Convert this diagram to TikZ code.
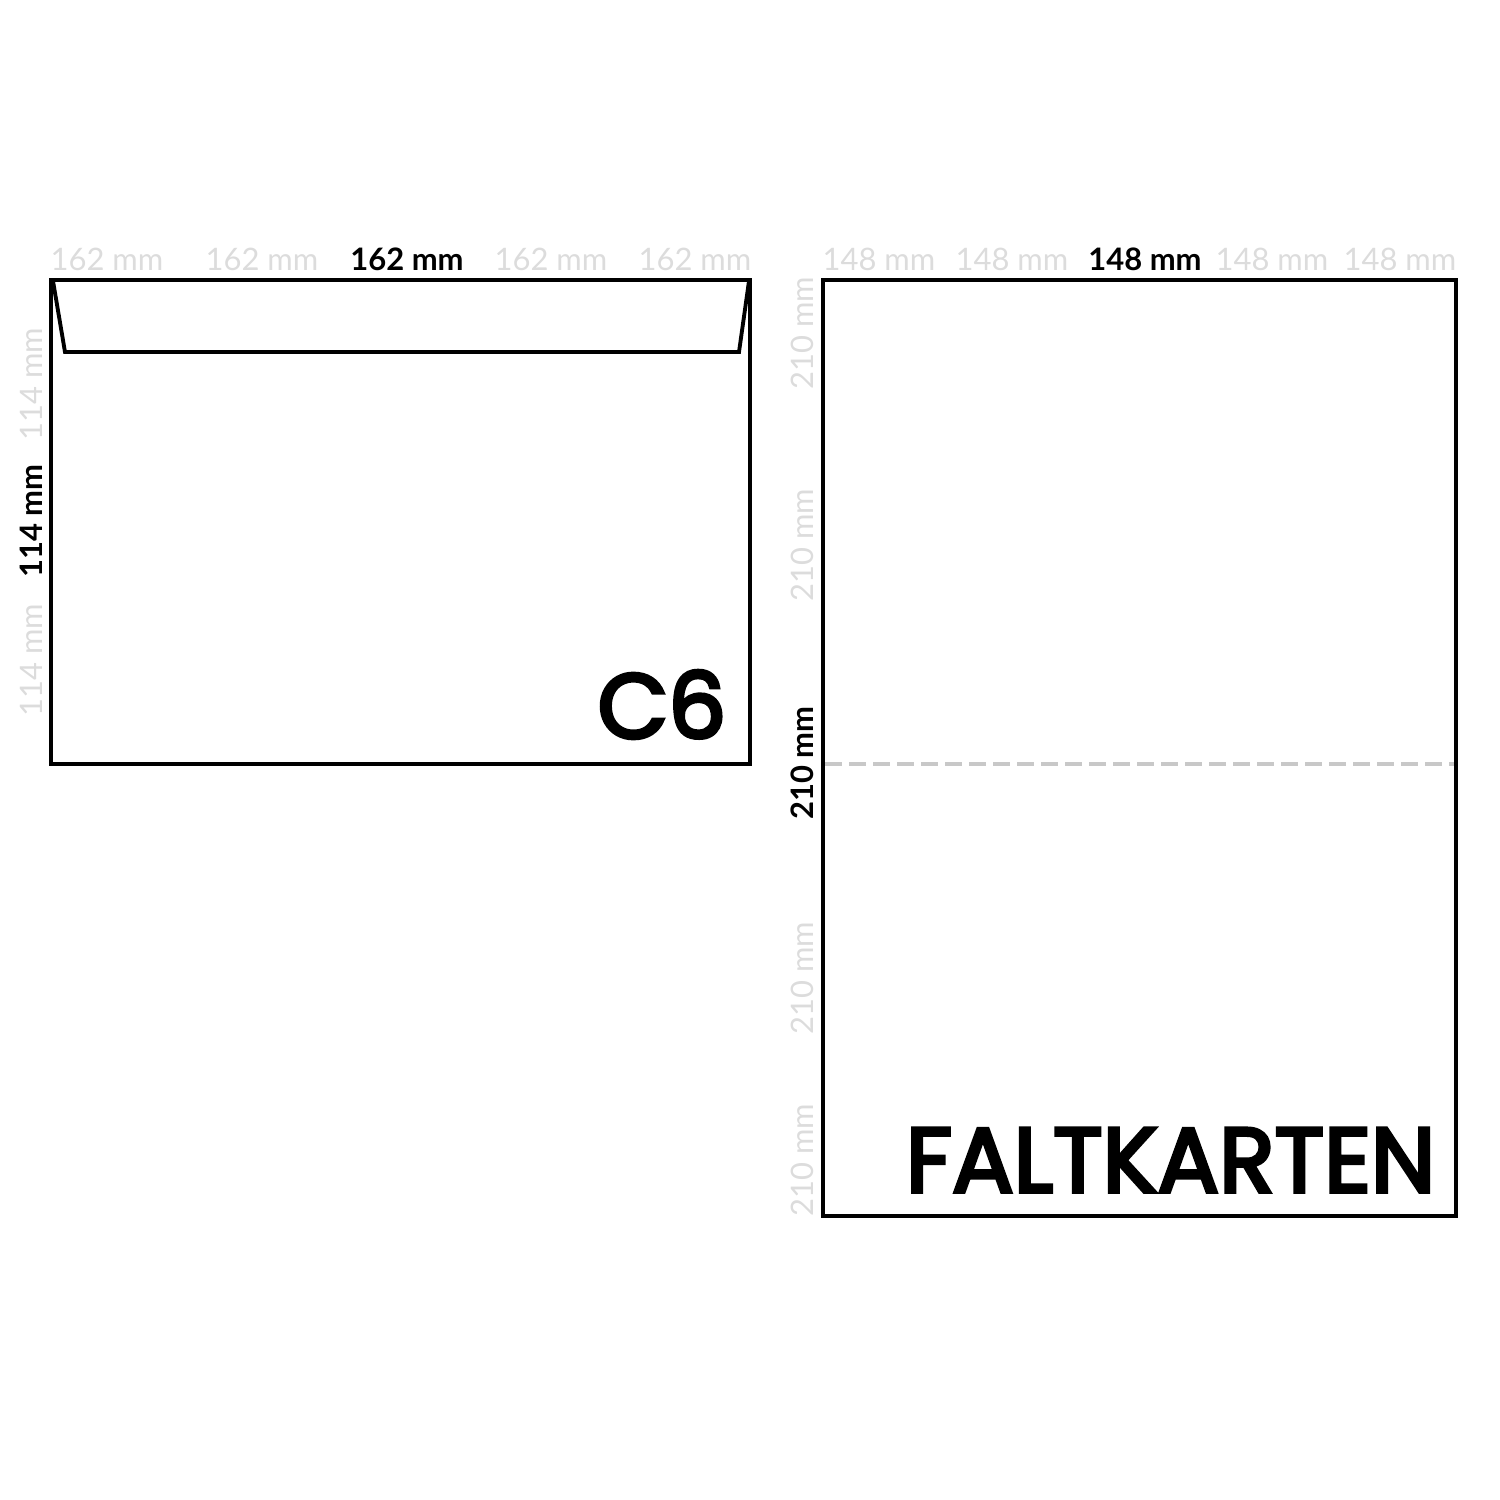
\documentclass[tikz,border=0pt]{standalone}
\usepackage{fontspec}
\setmainfont{Lato}
\newfontfamily\headfont{Poppins}[FakeBold=4]
\usepackage{xcolor}
\definecolor{label_gray}{HTML}{DCDCDC}
\definecolor{fold_gray}{HTML}{C8C8C8}

\begin{document}
\begin{tikzpicture}[
                x=0.01cm,
                y=-0.01cm,
                outline/.style={line width=1.1pt, black},
                dimtext/.style={font=\fontsize{8.8}{10}\selectfont, inner sep=0pt, anchor=base},
                dimgray/.style={dimtext, label_gray},
                dimblack/.style={dimtext, black, font=\bfseries\fontsize{8.8}{10}\selectfont},
                sizetitle/.style={font=\headfont\fontsize{26}{30}\selectfont, inner sep=0pt, anchor=base east}
            ]
            % Fix the page size
            \useasboundingbox (0,0) rectangle (1500,1500);

            % Envelope C6 with flap
            \draw[outline] (51,280) rectangle (750,764);
            \draw[outline] (53,281) -- (65,352) -- (739,352) -- (749,281);
            \node[sizetitle] (envtitle) at (727,738) {C6};

            % Envelope width labels
            \node[dimgray] (envw1) at (107,270) {162 mm};
            \node[dimgray] (envw2) at (262,270) {162 mm};
            \node[dimblack] (envw3) at (407,270) {162 mm};
            \node[dimgray] (envw4) at (551,270) {162 mm};
            \node[dimgray] (envw5) at (695,270) {162 mm};

            % Envelope height labels
            \node[dimgray, rotate=90] (envh1) at (42,384) {114 mm};
            \node[dimblack, rotate=90] (envh2) at (42,521) {114 mm};
            \node[dimgray, rotate=90] (envh3) at (42,660) {114 mm};

            % Folded card with fold line
            \draw[outline] (823,280) rectangle (1456,1216);
            \draw[fold_gray, line width=1.1pt, dash pattern=on 0.165cm off 0.075cm] (825,764) -- (1454,764);
            \node[sizetitle] (cardtitle) at (1436,1192) {FALTKARTEN};

            % Card width labels
            \node[dimgray] (cardw1) at (879,270) {148 mm};
            \node[dimgray] (cardw2) at (1012,270) {148 mm};
            \node[dimblack] (cardw3) at (1145,270) {148 mm};
            \node[dimgray] (cardw4) at (1272,270) {148 mm};
            \node[dimgray] (cardw5) at (1400,270) {148 mm};

            % Card height labels
            \node[dimgray, rotate=90] (cardh1) at (813,333) {210 mm};
            \node[dimgray, rotate=90] (cardh2) at (813,545) {210 mm};
            \node[dimblack, rotate=90] (cardh3) at (813,763) {210 mm};
            \node[dimgray, rotate=90] (cardh4) at (813,978) {210 mm};
            \node[dimgray, rotate=90] (cardh5) at (813,1160) {210 mm};
        \end{tikzpicture}
\end{document}
